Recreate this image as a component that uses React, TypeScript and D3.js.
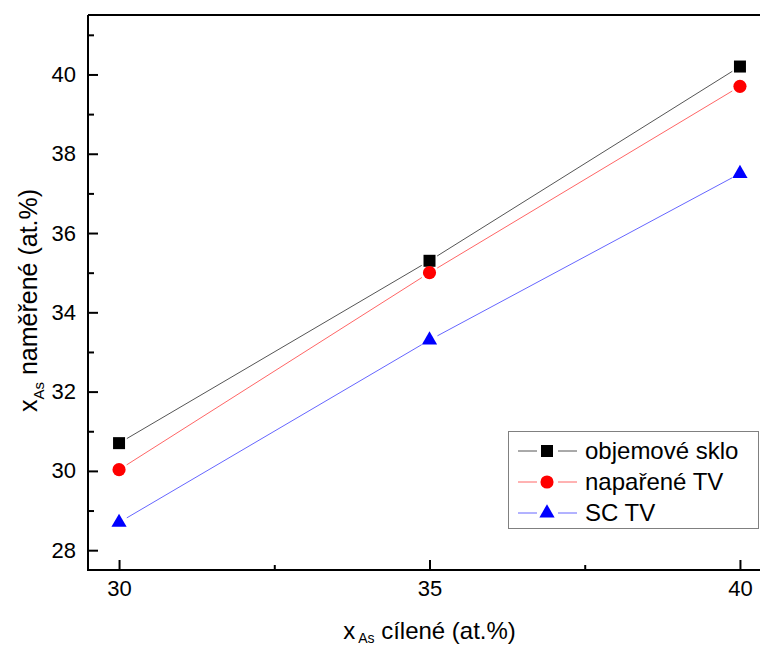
import React, { useEffect, useRef } from "react";
import * as d3 from "d3";

// target composition (at.%)
const xValues = [30, 35, 40];

const seriesNames = ["objemové sklo", "napařené TV", "SC TV"];
const objemoveSklo = [30.7, 35.3, 40.2];
const napareneTV = [30.03, 35.0, 39.7];
const scTV = [28.7, 33.3, 37.5];

const xMajorTicks = [30, 35, 40];
const xMinorTicks = [32.5, 37.5];
const yMajorTicks = [28, 30, 32, 34, 36, 38, 40];
const yMinorTicks = [29, 31, 33, 35, 37, 39, 41];

const FONT = "'Liberation Sans', Arial, Helvetica, sans-serif";

const App = () => {
  const svgRef = useRef<SVGSVGElement>(null);

  useEffect(() => {
    const width = 760;
    const height = 646;
    const plot = { left: 88, right: 771, top: 15, bottom: 570 };

    const svg = d3.select(svgRef.current);
    svg.selectAll("*").remove();
    svg.attr("width", width).attr("height", height);

    const x = d3.scaleLinear().domain([29.5, 40.5]).range([plot.left, plot.right]);
    const y = d3.scaleLinear().domain([27.5, 41.5]).range([plot.bottom, plot.top]);

    const series = [
      { name: seriesNames[0], values: objemoveSklo, color: "#000000", line: "#555555", shape: d3.symbolSquare, size: 144 },
      { name: seriesNames[1], values: napareneTV, color: "#ff0000", line: "#ff6666", shape: d3.symbolCircle, size: 136 },
      { name: seriesNames[2], values: scTV, color: "#0000ff", line: "#6666ff", shape: d3.symbolTriangle, size: 100 },
    ];

    // Y axis (ticks pointing inward)
    const yAxis = svg
      .append("g")
      .attr("transform", `translate(${plot.left},0)`)
      .call(d3.axisLeft(y).tickValues(yMajorTicks).tickSize(-10).tickSizeOuter(0).tickPadding(12));
    yAxis.select(".domain").remove();
    yAxis.selectAll(".tick line").attr("stroke", "#000").attr("stroke-width", 2);
    yAxis
      .selectAll(".tick text")
      .attr("fill", "#000")
      .style("font-family", FONT)
      .style("font-size", "22px");

    const yMinor = svg
      .append("g")
      .attr("transform", `translate(${plot.left},0)`)
      .call(d3.axisLeft(y).tickValues(yMinorTicks).tickSize(-6).tickSizeOuter(0).tickFormat(() => ""));
    yMinor.select(".domain").remove();
    yMinor.selectAll(".tick line").attr("stroke", "#000").attr("stroke-width", 2);

    // X axis
    const xAxis = svg
      .append("g")
      .attr("transform", `translate(0,${plot.bottom})`)
      .call(d3.axisBottom(x).tickValues(xMajorTicks).tickSize(-10).tickSizeOuter(0).tickPadding(10));
    xAxis.select(".domain").remove();
    xAxis.selectAll(".tick line").attr("stroke", "#000").attr("stroke-width", 2);
    xAxis
      .selectAll(".tick text")
      .attr("fill", "#000")
      .style("font-family", FONT)
      .style("font-size", "22px");

    const xMinor = svg
      .append("g")
      .attr("transform", `translate(0,${plot.bottom})`)
      .call(d3.axisBottom(x).tickValues(xMinorTicks).tickSize(-5).tickSizeOuter(0).tickFormat(() => ""));
    xMinor.select(".domain").remove();
    xMinor.selectAll(".tick line").attr("stroke", "#000").attr("stroke-width", 2);

    // frame lines (right side is cut off)
    svg
      .append("path")
      .attr("d", `M${plot.left},${plot.top}H${width}M${plot.left},${plot.top}V${plot.bottom}H${width}`)
      .attr("fill", "none")
      .attr("stroke", "#000")
      .attr("stroke-width", 2);

    // lines with a small gap around each marker
    const gap = 9;
    series.forEach((s) => {
      const pts = xValues.map((v, i) => [x(v), y(s.values[i])]);
      for (let i = 0; i < pts.length - 1; i++) {
        const [x0, y0] = pts[i];
        const [x1, y1] = pts[i + 1];
        const len = Math.hypot(x1 - x0, y1 - y0);
        const ux = (x1 - x0) / len;
        const uy = (y1 - y0) / len;
        svg
          .append("line")
          .attr("x1", x0 + ux * gap)
          .attr("y1", y0 + uy * gap)
          .attr("x2", x1 - ux * gap)
          .attr("y2", y1 - uy * gap)
          .attr("stroke", s.line)
          .attr("stroke-width", 1);
      }
      svg
        .selectAll(null)
        .data(pts)
        .join("path")
        .attr("transform", (d) => `translate(${d[0]},${d[1]})`)
        .attr("d", d3.symbol().type(s.shape).size(s.size)())
        .attr("fill", s.color);
    });

    // Legend
    const legend = svg.append("g").attr("transform", "translate(508,431)");
    legend
      .append("rect")
      .attr("x", 0.5)
      .attr("y", 0.5)
      .attr("width", 250)
      .attr("height", 97)
      .attr("fill", "#fff")
      .attr("stroke", "#808080")
      .attr("stroke-width", 1);
    series.forEach((s, i) => {
      const cy = 20 + i * 31;
      const row = legend.append("g").attr("transform", `translate(0,${cy})`);
      row.append("line").attr("x1", 10).attr("x2", 29).attr("stroke", s.line).attr("stroke-width", 1);
      row.append("line").attr("x1", 50).attr("x2", 69).attr("stroke", s.line).attr("stroke-width", 1);
      row
        .append("path")
        .attr("transform", "translate(39,0)")
        .attr("d", d3.symbol().type(s.shape).size(s.size)())
        .attr("fill", s.color);
      row
        .append("text")
        .attr("x", 77)
        .attr("y", 8)
        .attr("fill", "#000")
        .style("font-family", FONT)
        .style("font-size", "24px")
        .text(s.name);
    });

    // Axis titles
    const xTitle = svg
      .append("text")
      .attr("x", (plot.left + plot.right) / 2)
      .attr("y", 639)
      .attr("text-anchor", "middle")
      .style("font-family", FONT)
      .style("font-size", "24px")
      .attr("fill", "#000");
    xTitle.append("tspan").text("x");
    xTitle.append("tspan").attr("dx", 3).attr("dy", 4).style("font-size", "14px").text("As");
    xTitle.append("tspan").attr("dy", -4).text(" cílené (at.%)");

    const yTitle = svg
      .append("text")
      .attr("transform", `translate(37,${(plot.top + plot.bottom) / 2 + 8}) rotate(-90)`)
      .attr("text-anchor", "middle")
      .style("font-family", FONT)
      .style("font-size", "25px")
      .attr("fill", "#000");
    yTitle.append("tspan").text("x");
    yTitle.append("tspan").attr("dy", 7).style("font-size", "15px").text("As");
    yTitle.append("tspan").attr("dy", -7).text(" naměřené (at.%)");
  }, []);

  return <svg ref={svgRef} style={{ position: "absolute", left: 0, top: 0 }}></svg>;
};

export default App;
